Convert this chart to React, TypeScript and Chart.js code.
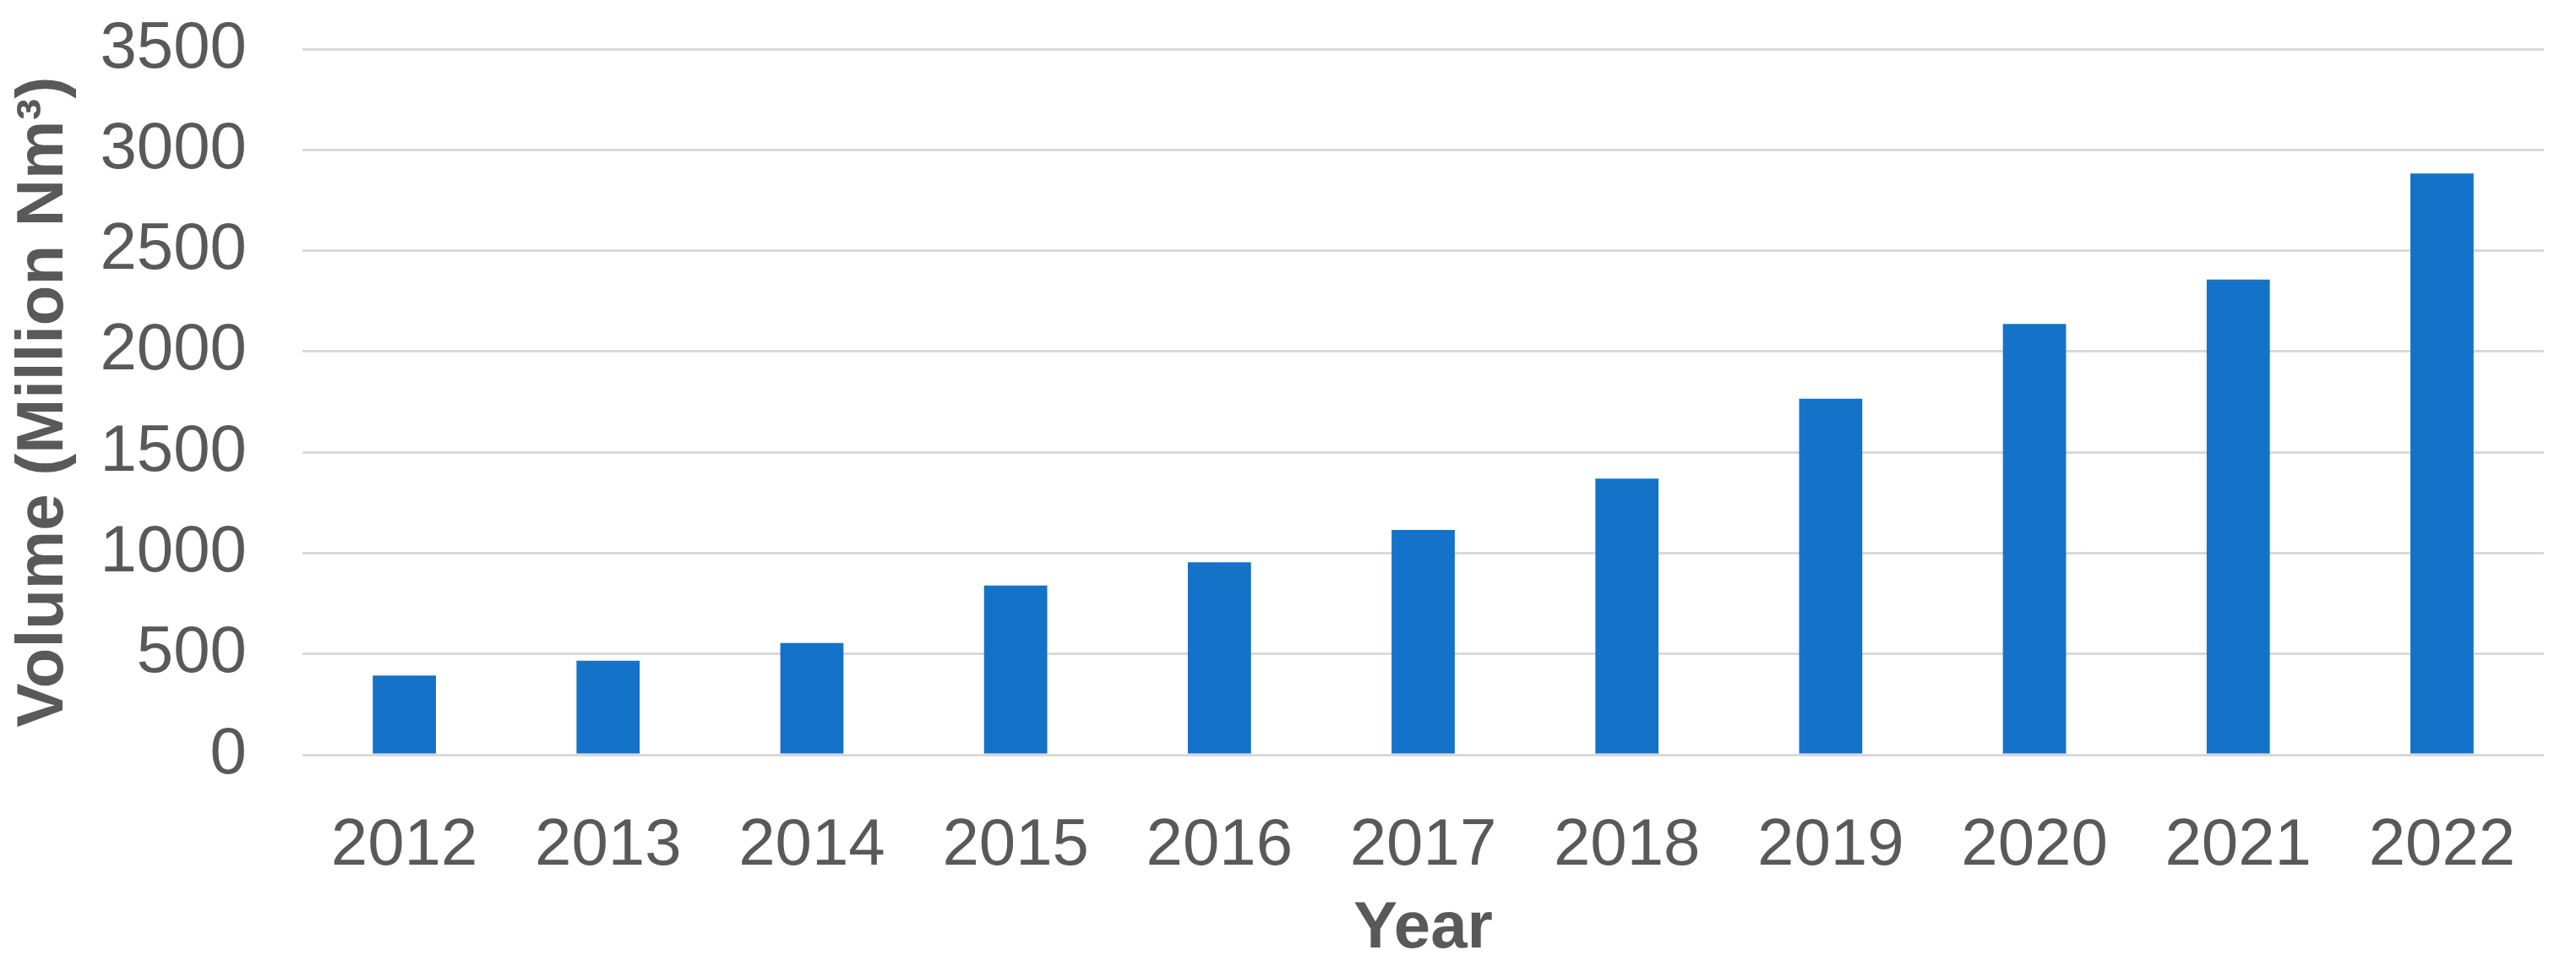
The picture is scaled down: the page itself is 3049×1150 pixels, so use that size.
import React, { useEffect, useRef } from "react";
import { Chart, registerables } from "chart.js";

Chart.register(...registerables);

const years = ["2012", "2013", "2014", "2015", "2016", "2017", "2018", "2019", "2020", "2021", "2022"];
const volumes = [393, 466, 554, 839, 955, 1115, 1370, 1766, 2137, 2357, 2883];
const yTitle = "Volume (Million Nm³)";
const xTitle = "Year";

const FONT = "'Liberation Sans', Arial, Helvetica, sans-serif";
const TEXT = "#595959";

export default function App() {
  const ref = useRef<HTMLCanvasElement | null>(null);

  useEffect(() => {
    document.body.style.margin = "0";
    const canvas = ref.current;
    if (!canvas) return;
    const chart = new Chart(canvas, {
      type: "bar",
      data: {
        labels: years,
        datasets: [
          {
            data: volumes,
            backgroundColor: "#1572C9",
            borderWidth: 0,
            barPercentage: 0.31,
            categoryPercentage: 1,
          },
        ],
      },
      options: {
        animation: false,
        responsive: false,
        devicePixelRatio: 1,
        layout: { padding: { top: 58, right: 38, left: 0, bottom: 0 } },
        plugins: { legend: { display: false }, tooltip: { enabled: false } },
        scales: {
          x: {
            grid: { display: false },
            border: { display: false },
            ticks: {
              color: TEXT,
              font: { family: FONT, size: 78 },
              padding: 54,
              maxRotation: 0,
            },
            title: {
              display: true,
              text: xTitle,
              color: TEXT,
              font: { family: FONT, size: 78, weight: "bold" },
              padding: { top: 4, bottom: 4 },
            },
            afterFit: (s: any) => {
              s.height = 257;
              s.paddingLeft = 0;
              s.paddingRight = 0;
            },
          },
          y: {
            min: 0,
            max: 3500,
            grid: { color: "#d9d9d9", lineWidth: 3, drawTicks: false },
            border: { display: false },
            ticks: {
              stepSize: 500,
              color: TEXT,
              font: { family: FONT, size: 78 },
              padding: 66,
              callback: (v: any) => String(v),
            },
            title: {
              display: true,
              text: yTitle,
              color: TEXT,
              font: { family: FONT, size: 78, weight: "bold" },
              padding: { top: 6, bottom: 4 },
            },
            afterFit: (s: any) => {
              s.width = 358;
              s.paddingTop = 0;
              s.paddingBottom = 0;
            },
          },
        },
      },
    });
    return () => chart.destroy();
  }, []);

  return (
    <div style={{ width: 3049, height: 1150, background: "#fff" }}>
      <canvas ref={ref} width={3049} height={1150} style={{ display: "block" }} />
    </div>
  );
}
